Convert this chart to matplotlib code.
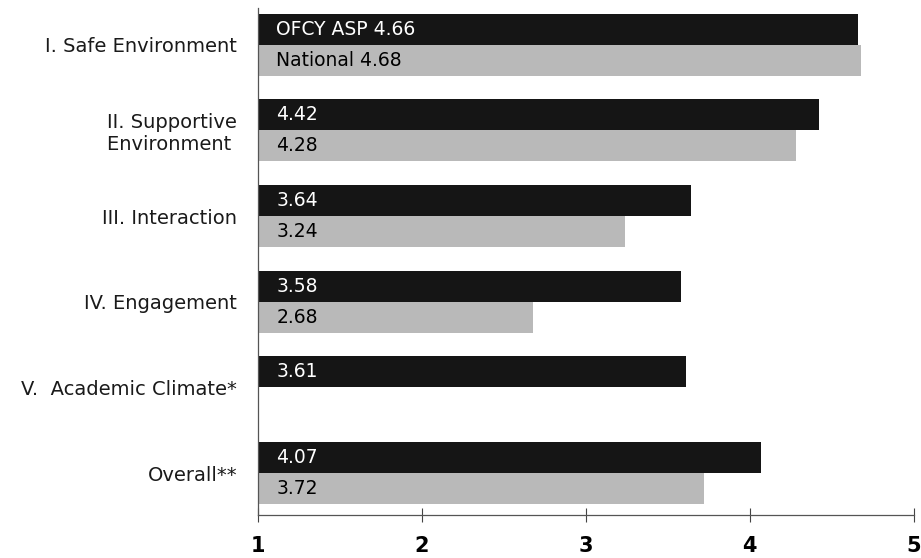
import numpy as np
import matplotlib
matplotlib.use('Agg')
from matplotlib import pyplot as plt

categories = ['I. Safe Environment', 'II. Supportive\nEnvironment ', 'III. Interaction',
              'IV. Engagement', 'V.  Academic Climate*', 'Overall**']
ofcy = [4.66, 4.42, 3.64, 3.58, 3.61, 4.07]
national = [4.68, 4.28, 3.24, 2.68, np.nan, 3.72]
series_names = ['OFCY ASP', 'National']
xticks = [1, 2, 3, 4, 5]

plt.rcParams['font.family'] = ['DejaVu Sans']

fig = plt.figure(figsize=(9.21, 5.58), dpi=100)
ax = fig.add_axes([0.280, 0.0771, 0.712, 0.9086])

y = np.arange(len(categories))
h = 0.362
dark = '#151515'
light = '#b9b9b9'

ax.barh(y - h / 2, ofcy, height=h, color=dark)
ax.barh(y + h / 2, national, height=h, color=light)

for i in range(len(categories)):
    t = f'{ofcy[i]:.2f}'
    if i == 0:
        t = f'{series_names[0]} {t}'
    ax.text(1.113, y[i] - h / 2, t, color='white', fontsize=13.5, va='center', ha='left')
    if not np.isnan(national[i]):
        t = f'{national[i]:.2f}'
        if i == 0:
            t = f'{series_names[1]} {t}'
        ax.text(1.113, y[i] + h / 2, t, color='black', fontsize=13.5, va='center', ha='left')

ax.set_xlim(1, 5)
ax.set_ylim(len(categories) - 0.51, -0.43)
ax.set_xticks(xticks)
ax.set_xticklabels([str(v) for v in xticks], fontsize=15, fontweight='bold')
ax.set_yticks(y)
ax.set_yticklabels(categories, fontsize=14, color='#1a1a1a')
ax.tick_params(axis='y', length=0, pad=15)
ax.tick_params(axis='x', direction='inout', length=10, width=0.8, color='#444444', pad=10)

for s in ['top', 'right']:
    ax.spines[s].set_visible(False)
ax.spines['left'].set_color('#555555')
ax.spines['bottom'].set_color('#555555')
ax.spines['left'].set_linewidth(0.9)
ax.spines['bottom'].set_linewidth(0.9)

fig.savefig('out.png', dpi=100)
